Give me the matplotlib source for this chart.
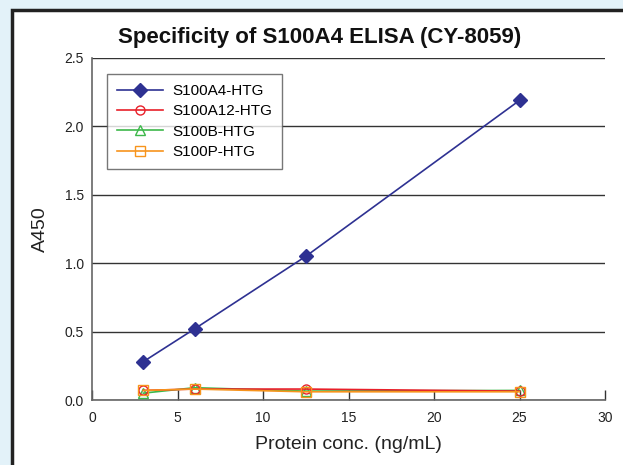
import matplotlib
matplotlib.use("Agg")
import matplotlib.pyplot as plt
from matplotlib.patches import Rectangle

plt.rcParams['font.family'] = ['Liberation Sans', 'DejaVu Sans']

conc = [3, 6, 12.5, 25]
s100a4 = [0.28, 0.52, 1.05, 2.19]
s100a12 = [0.07, 0.08, 0.08, 0.065]
s100b = [0.05, 0.09, 0.065, 0.07]
s100p = [0.07, 0.08, 0.06, 0.06]
xticks = [0, 5, 10, 15, 20, 25, 30]
yticks = [0.0, 0.5, 1.0, 1.5, 2.0, 2.5]

fig = plt.figure(figsize=(6.23, 4.65), dpi=100, facecolor='#e3f2f9')
W, H = 623, 465

bg = fig.add_axes([0, 0, 1, 1], zorder=-10)
bg.set_xlim(0, W)
bg.set_ylim(H, 0)
bg.axis('off')
bg.add_patch(Rectangle((12, 10), 700, 500, facecolor='white', edgecolor='#222222', linewidth=2.5))

ax = fig.add_axes([92 / W, 1 - 400 / H, (605 - 92) / W, (400 - 58) / H])
ax.set_facecolor('none')

ax.plot(conc, s100a4, color='#2e3192', marker='D', markersize=7, linewidth=1.2, label='S100A4-HTG', zorder=5)
ax.plot(conc, s100a12, color='#e8202a', marker='o', markersize=6.5, markerfacecolor='none', linewidth=1.2, label='S100A12-HTG', zorder=4)
ax.plot(conc, s100b, color='#3db84a', marker='^', markersize=7.5, markerfacecolor='none', linewidth=1.2, label='S100B-HTG', zorder=3)
ax.plot(conc, s100p, color='#f7941d', marker='s', markersize=6.5, markerfacecolor='none', linewidth=1.2, label='S100P-HTG', zorder=6)

ax.set_xlim(0, 30)
ax.set_ylim(0, 2.5)
ax.set_xticks(xticks)
ax.set_yticks(yticks)
ax.set_yticklabels([f'{v:.1f}' for v in yticks])
ax.yaxis.grid(True, color='#333333', linewidth=1.0)
ax.set_axisbelow(True)
for s in ['top', 'right']:
    ax.spines[s].set_visible(False)
for s in ['left', 'bottom']:
    ax.spines[s].set_color('#666666')
    ax.spines[s].set_linewidth(1.2)
ax.tick_params(axis='x', direction='in', length=7, width=1, color='#333333', labelsize=10, pad=8)
ax.tick_params(axis='y', direction='out', length=0, labelsize=10, pad=6)
for lab in ax.get_xticklabels() + ax.get_yticklabels():
    lab.set_color('#222222')

ax.set_xlabel('Protein conc. (ng/mL)', fontsize=14, labelpad=8, color='#222222')
ax.set_ylabel('A450', fontsize=14, labelpad=11, color='#222222')
fig.text(320 / W, 1 - 37 / H, 'Specificity of S100A4 ELISA (CY-8059)', fontsize=16,
         fontweight='bold', ha='center', va='center', color='#111111')

leg = ax.legend(loc='upper left', bbox_to_anchor=((107 - 92) / (605 - 92), (400 - 74) / (400 - 58)),
                fontsize=11, frameon=True, fancybox=False, edgecolor='#555555',
                handlelength=3.0, handletextpad=0.6, borderpad=0.65, labelspacing=0.42,
                borderaxespad=0)
leg.get_frame().set_linewidth(1.0)

fig.savefig('out.png', dpi=100, facecolor=fig.get_facecolor())
